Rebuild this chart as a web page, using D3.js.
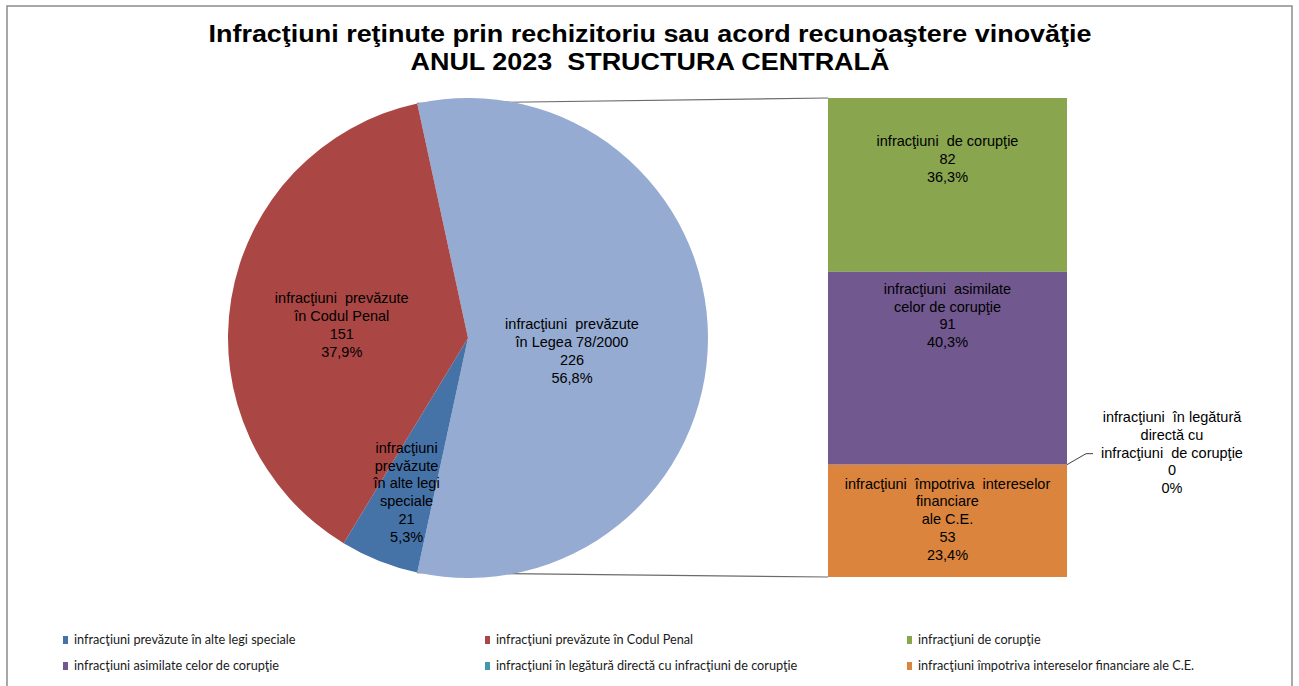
<!DOCTYPE html>
<html><head><meta charset="utf-8">
<script src="https://cdn.jsdelivr.net/npm/d3@7"></script>
<style>
html,body{margin:0;padding:0;background:#fff;}
svg text{white-space:pre;}
</style></head>
<body>
<svg id="chart" width="1299" height="686"></svg>
<script>
// ---- data ----
const titleLines = ["Infracţiuni reţinute prin rechizitoriu sau acord recunoaştere vinovăţie", "ANUL 2023  STRUCTURA CENTRALĂ"];
const pieCategories = ["infracţiuni prevăzute în Legea 78/2000", "infracţiuni prevăzute în alte legi speciale", "infracţiuni prevăzute în Codul Penal"];
const pieLabelLines = [["infracţiuni  prevăzute", "în Legea 78/2000"], ["infracţiuni", "prevăzute", "în alte legi", "speciale"], ["infracţiuni  prevăzute", "în Codul Penal"]];
const pieValues = [226, 21, 151];
const piePercents = ["56,8%", "5,3%", "37,9%"];
const barCategories = ["infracţiuni de corupţie", "infracţiuni asimilate celor de corupţie", "infracţiuni în legătură directă cu infracţiuni de corupţie", "infracţiuni împotriva intereselor financiare ale C.E."];
const barLabelLines = [["infracţiuni  de corupţie"], ["infracţiuni  asimilate", "celor de corupţie"], ["infracţiuni  în legătură", "directă cu", "infracţiuni  de corupţie"], ["infracţiuni  împotriva  intereselor", "financiare", "ale C.E."]];
const barValues = [82, 91, 0, 53];
const barPercents = ["36,3%", "40,3%", "0%", "23,4%"];
const legendLabels = ["infracţiuni prevăzute în alte legi speciale", "infracţiuni prevăzute în Codul Penal", "infracţiuni de corupţie", "infracţiuni asimilate celor de corupţie", "infracţiuni în legătură directă cu infracţiuni de corupţie", "infracţiuni împotriva intereselor financiare ale C.E."];

// ---- styles ----
const pieColors = ["#95ABD2", "#4572A7", "#AA4643"];
const barColors = ["#89A54E", "#71588F", "#4198AF", "#DB843D"];
const legendColors = ["#4572A7", "#AA4643", "#89A54E", "#71588F", "#4198AF", "#DB843D"];
const FONT = "'Liberation Sans', Arial, sans-serif";

const svg = d3.select("#chart");
svg.append("rect").attr("x", 7).attr("y", 6).attr("width", 1285).attr("height", 700)
  .attr("fill", "#fff").attr("stroke", "#8c8c8c").attr("stroke-width", 1.5);

// title
const titleWidths = [883, 479];
titleLines.forEach((t, i) => {
  svg.append("text").attr("x", 650).attr("y", 42 + i * 28)
    .attr("text-anchor", "middle").attr("font-family", FONT).attr("font-weight", "bold")
    .attr("font-size", 23).attr("fill", "#000")
    .attr("textLength", titleWidths[i]).attr("lengthAdjust", "spacingAndGlyphs")
    .text(t);
});

// ---- pie ----
const cx = 468, cy = 338, R = 240;
const total = d3.sum(pieValues);
const a0 = Math.PI / 2 - Math.PI * pieValues[0] / total;
const pie = d3.pie().sort(null).value(d => d).startAngle(a0).endAngle(a0 + 2 * Math.PI);
const arcs = pie(pieValues);
const arc = d3.arc().innerRadius(0).outerRadius(R);

// bar scale
const barTop = 98, barBottom = 577, barX = 828, barW = 239;
const y = d3.scaleLinear().domain([0, d3.sum(barValues)]).range([barTop, barBottom]);

// series lines
const pt = a => [cx + R * Math.sin(a), cy - R * Math.cos(a)];
const p1 = pt(arcs[0].startAngle), p2 = pt(arcs[0].endAngle);
svg.append("line").attr("x1", p1[0]).attr("y1", p1[1]).attr("x2", barX).attr("y2", y(0))
  .attr("stroke", "#6b6b6b").attr("stroke-width", 1.2);
svg.append("line").attr("x1", p2[0]).attr("y1", p2[1]).attr("x2", barX).attr("y2", y(d3.sum(barValues)))
  .attr("stroke", "#6b6b6b").attr("stroke-width", 1.2);

const g = svg.append("g").attr("transform", `translate(${cx},${cy})`);
g.selectAll("path").data(arcs).join("path")
  .attr("d", arc).attr("fill", (d, i) => pieColors[i]);

// pie labels
const labelRadius = [104, 166, 128];
const labelShift = [13, 0, 8];
const LH = 17.8;
function block(x, yc, lines, size) {
  const n = lines.length;
  const t = svg.append("text").attr("font-family", FONT).attr("font-size", size || 14.5)
    .attr("fill", "#000").attr("text-anchor", "middle");
  lines.forEach((l, k) => {
    t.append("tspan").attr("x", x).attr("y", yc - (n - 1) * LH / 2 + k * LH + 5).text(l);
  });
}
arcs.forEach((d, i) => {
  const m = (d.startAngle + d.endAngle) / 2;
  const x = cx + labelRadius[i] * Math.sin(m);
  const yy = cy - labelRadius[i] * Math.cos(m) + labelShift[i];
  block(x, yy, [...pieLabelLines[i], String(pieValues[i]), piePercents[i]]);
});

// ---- bar ----
let acc = 0;
const segs = barValues.map((v, i) => { const s = { i, v, y0: acc, y1: acc + v }; acc += v; return s; });
svg.selectAll("rect.seg").data(segs).join("rect").attr("class", "seg")
  .attr("x", barX).attr("width", barW)
  .attr("y", d => y(d.y0)).attr("height", d => y(d.y1) - y(d.y0))
  .attr("fill", d => barColors[d.i]);

// bar labels
const barLabelTop = [43, 17, 0, 19];
segs.forEach(d => {
  const lines = [...barLabelLines[d.i], String(barValues[d.i]), barPercents[d.i]];
  if (d.v > 0) {
    const n = lines.length;
    const yc = y(d.y0) + barLabelTop[d.i] + (n - 1) * LH / 2;
    block(barX + barW / 2, yc, lines);
  } else {
    const yb = y(d.y0);
    svg.append("polyline")
      .attr("points", `${barX + barW},${yb} ${barX + barW + 19},${yb - 11} ${barX + barW + 26},${yb - 11}`)
      .attr("fill", "none").attr("stroke", "#404040").attr("stroke-width", 1);
    block(barX + barW + 105, yb - 12, lines);
  }
});

// ---- legend ----
const legCols = [63, 485, 907], legRows = [640, 666];
legendLabels.forEach((l, i) => {
  const x = legCols[i % 3], yy = legRows[Math.floor(i / 3)];
  svg.append("rect").attr("x", x).attr("y", yy - 4).attr("width", 5).attr("height", 8).attr("fill", legendColors[i]);
  svg.append("text").attr("x", x + 11).attr("y", yy + 4).attr("font-family", "Lato, 'Open Sans', sans-serif")
    .attr("font-size", 12.7).attr("fill", "#1a1a1a").text(l);
});
</script>
</body></html>
